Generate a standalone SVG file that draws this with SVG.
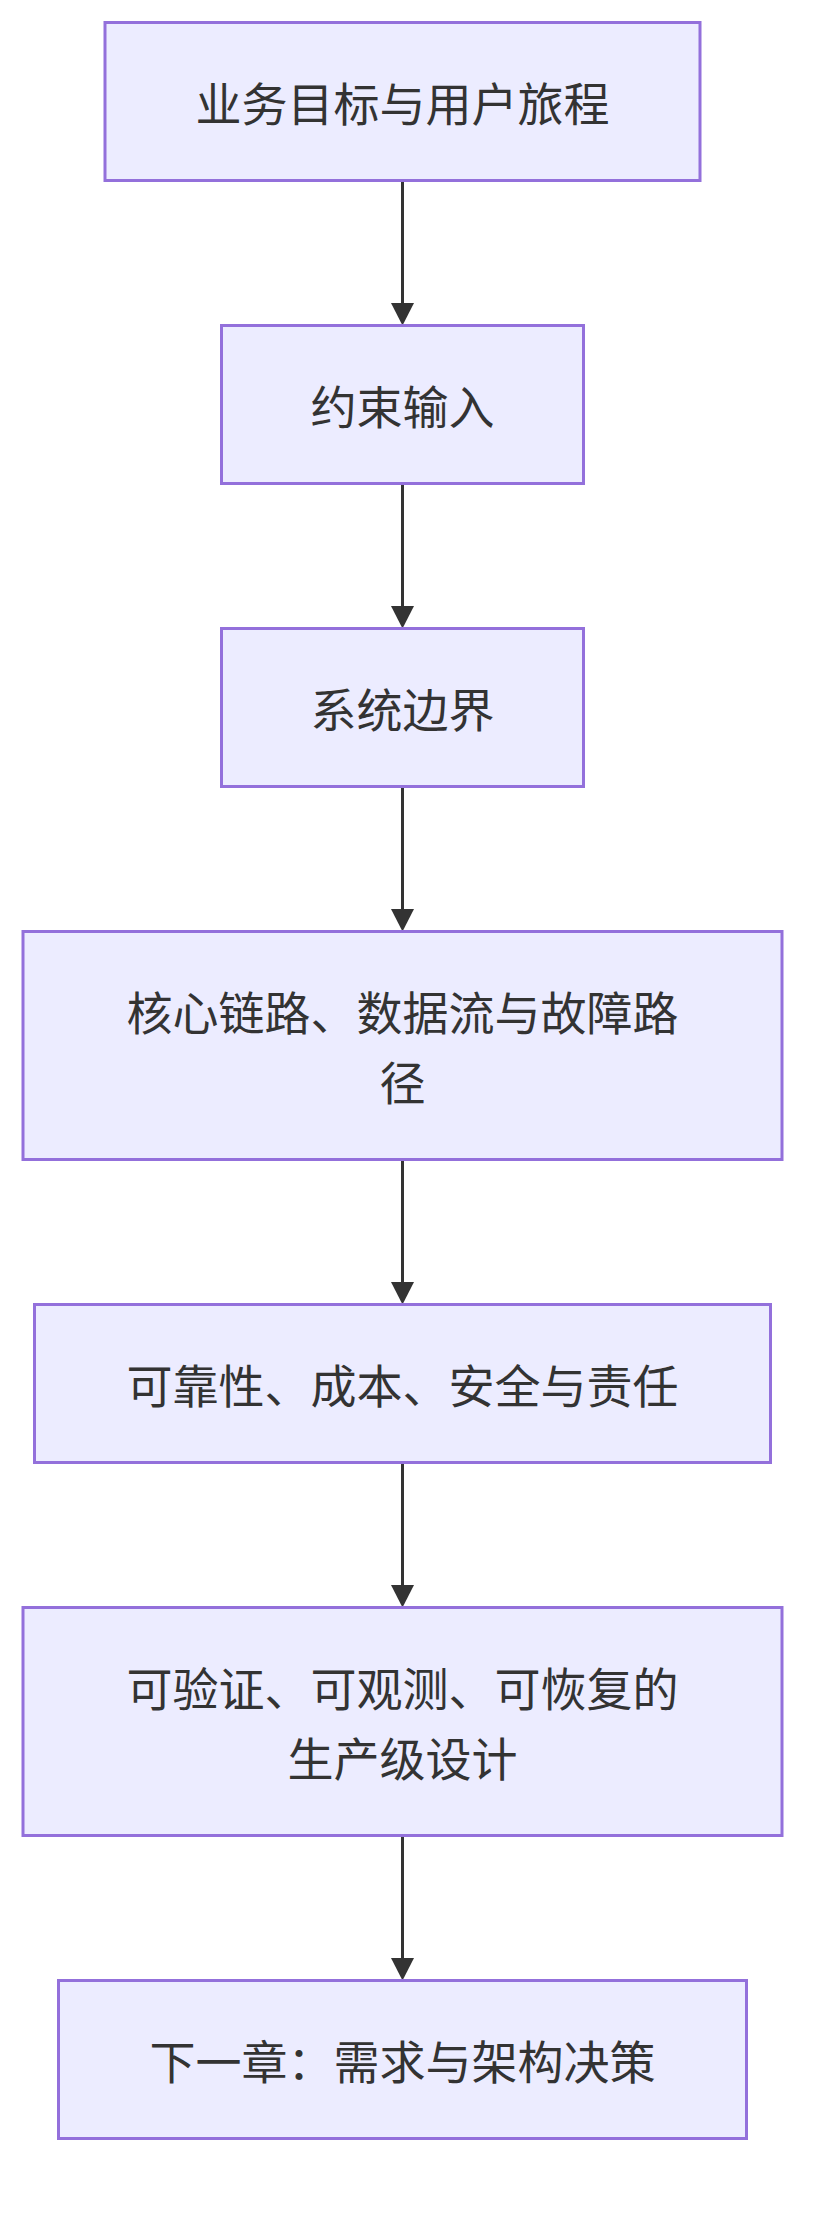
<svg xmlns="http://www.w3.org/2000/svg" width="828" height="2226" viewBox="0 0 828 2226">
<defs>
<style>
.node rect{fill:#ECECFF;stroke:#9370DB;stroke-width:3}
.node text{font-family:"Noto Sans CJK SC","Noto Sans",sans-serif;font-size:46px;fill:#333;text-anchor:middle;dominant-baseline:central}
.edge{stroke:#333;stroke-width:3;fill:none}
</style>
<marker id="arrow" viewBox="0 0 10 10" refX="10" refY="5" markerWidth="8" markerHeight="8" markerUnits="userSpaceOnUse" orient="auto">
<path d="M0,0 L10,5 L0,10 z" fill="#333"/>
</marker>
</defs>
<rect width="828" height="2226" fill="#ffffff"/>
<g id="connectors">
<line class="edge" x1="402.5" y1="180.5" x2="402.5" y2="304" />
<path d="M391,303 L414,303 L402.5,325.5 z" fill="#333"/>
<line class="edge" x1="402.5" y1="483.5" x2="402.5" y2="607" />
<path d="M391,606 L414,606 L402.5,628.5 z" fill="#333"/>
<line class="edge" x1="402.5" y1="786.5" x2="402.5" y2="910" />
<path d="M391,909 L414,909 L402.5,931.5 z" fill="#333"/>
<line class="edge" x1="402.5" y1="1159.5" x2="402.5" y2="1283" />
<path d="M391,1282 L414,1282 L402.5,1304.5 z" fill="#333"/>
<line class="edge" x1="402.5" y1="1462.5" x2="402.5" y2="1586" />
<path d="M391,1585 L414,1585 L402.5,1607.5 z" fill="#333"/>
<line class="edge" x1="402.5" y1="1835.5" x2="402.5" y2="1959" />
<path d="M391,1958 L414,1958 L402.5,1980.5 z" fill="#333"/>
</g>
<g id="n1" class="node"><rect x="105" y="22.5" width="595" height="158"/><text x="402.5" y="101">业务目标与用户旅程</text></g>
<g id="n2" class="node"><rect x="221.5" y="325.5" width="362" height="158"/><text x="402.5" y="404">约束输入</text></g>
<g id="n3" class="node"><rect x="221.5" y="628.5" width="362" height="158"/><text x="402.5" y="707">系统边界</text></g>
<g id="n4" class="node"><rect x="23" y="931.5" width="759" height="228"/><text x="402.5" y="1010">核心链路、数据流与故障路</text><text x="402.5" y="1080">径</text></g>
<g id="n5" class="node"><rect x="34.5" y="1304.5" width="736" height="158"/><text x="402.5" y="1383">可靠性、成本、安全与责任</text></g>
<g id="n6" class="node"><rect x="23" y="1607.5" width="759" height="228"/><text x="402.5" y="1686">可验证、可观测、可恢复的</text><text x="402.5" y="1756">生产级设计</text></g>
<g id="n7" class="node"><rect x="58.5" y="1980.5" width="688" height="158"/><text x="402.5" y="2059">下一章：需求与架构决策</text></g>
</svg>
